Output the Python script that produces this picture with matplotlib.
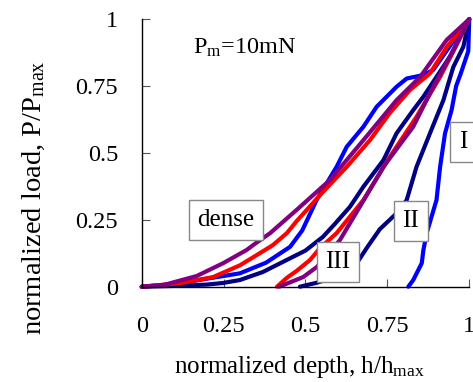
import matplotlib
matplotlib.use("Agg")
import matplotlib.pyplot as plt

plt.rcParams['font.family'] = ['Liberation Serif', 'DejaVu Serif']
plt.rcParams['mathtext.fontset'] = 'custom'
plt.rcParams['mathtext.rm'] = 'Liberation Serif'
plt.rcParams['mathtext.it'] = 'Liberation Serif:italic'

# ---- data (normalized depth h/hmax, normalized load P/Pmax) ----
blue_load_h = [0, 0.10, 0.20, 0.30, 0.38, 0.453, 0.49, 0.534, 0.595, 0.626, 0.677, 0.717, 0.778, 0.809, 0.86, 0.89, 0.93, 0.97, 1.0]
blue_load_P = [0, 0.01, 0.03, 0.05, 0.09, 0.149, 0.21, 0.324, 0.448, 0.523, 0.598, 0.672, 0.747, 0.778, 0.791, 0.81, 0.88, 0.95, 1.0]
blue_unl_h = [1.0, 0.997, 0.975, 0.96, 0.946, 0.926, 0.911, 0.90, 0.87, 0.86, 0.855, 0.829, 0.814]
blue_unl_P = [1.0, 0.88, 0.80, 0.75, 0.66, 0.573, 0.448, 0.324, 0.20, 0.137, 0.088, 0.025, 0.0]

navy_load_h = [0, 0.10, 0.20, 0.249, 0.30, 0.37, 0.443, 0.50, 0.553, 0.59, 0.636, 0.677, 0.738, 0.778, 0.829, 0.86, 0.941, 1.0]
navy_load_P = [0, 0.003, 0.008, 0.014, 0.025, 0.055, 0.10, 0.135, 0.186, 0.235, 0.299, 0.374, 0.473, 0.573, 0.66, 0.71, 0.86, 1.0]
navy_unl_h = [1.0, 0.982, 0.951, 0.921, 0.88, 0.839, 0.809, 0.778, 0.727, 0.69, 0.656, 0.595, 0.535, 0.483]
navy_unl_P = [1.0, 0.897, 0.82, 0.697, 0.573, 0.448, 0.324, 0.274, 0.215, 0.15, 0.087, 0.037, 0.015, 0.0]

red_load_h = [0, 0.117, 0.218, 0.30, 0.351, 0.40, 0.443, 0.473, 0.554, 0.626, 0.697, 0.758, 0.819, 0.88, 0.931, 1.0]
red_load_P = [0, 0.013, 0.036, 0.080, 0.118, 0.155, 0.20, 0.245, 0.355, 0.448, 0.548, 0.65, 0.735, 0.797, 0.895, 1.0]
red_unl_h = [1.0, 0.96, 0.911, 0.839, 0.758, 0.677, 0.595, 0.545, 0.514, 0.474, 0.443, 0.413]
red_unl_P = [1.0, 0.90, 0.784, 0.635, 0.486, 0.324, 0.20, 0.145, 0.10, 0.06, 0.033, 0.0]

purple_load_h = [0, 0.066, 0.168, 0.249, 0.32, 0.351, 0.392, 0.473, 0.575, 0.677, 0.778, 0.85, 0.931, 1.0]
purple_load_P = [0, 0.006, 0.040, 0.088, 0.137, 0.165, 0.20, 0.287, 0.399, 0.548, 0.697, 0.784, 0.922, 1.0]
purple_unl_h = [1.0, 0.95, 0.89, 0.829, 0.738, 0.666, 0.605, 0.565, 0.535, 0.493, 0.42]
purple_unl_P = [1.0, 0.88, 0.747, 0.598, 0.448, 0.299, 0.174, 0.118, 0.074, 0.036, 0.0]

ticks = [0, 0.25, 0.5, 0.75, 1]
tick_labels = ['0', '0.25', '0.5', '0.75', '1']

fig = plt.figure(figsize=(4.73, 3.82), dpi=100)
ax = fig.add_axes([0.2996, 0.2495, 0.6925, 0.7005])

series = [
    (blue_load_h + blue_unl_h, blue_load_P + blue_unl_P, '#0000FF'),
    (navy_load_h + navy_unl_h, navy_load_P + navy_unl_P, '#000080'),
    (red_load_h + red_unl_h, red_load_P + red_unl_P, '#FF0000'),
    (purple_load_h + purple_unl_h, purple_load_P + purple_unl_P, '#800080'),
]
for h, P, c in series:
    ax.plot(h, P, color=c, lw=3.0, solid_joinstyle='round', solid_capstyle='round', clip_on=False)

ax.set_xlim(0, 1)
ax.set_ylim(0, 1)
ax.set_xticks(ticks)
ax.set_xticklabels(tick_labels)
ax.set_yticks(ticks)
ax.set_yticklabels(tick_labels)
ax.tick_params(direction='in', length=5.5, width=0.8, labelsize=17.5, color='#555555')
ax.tick_params(axis='x', pad=21)
ax.tick_params(axis='y', pad=17)
for s in ['top', 'right']:
    ax.spines[s].set_visible(False)
for s in ['left', 'bottom']:
    ax.spines[s].set_linewidth(1.0)

box = dict(boxstyle='square,pad=0.35', fc='white', ec='#888888', lw=1.0)
ax.text(0.257, 0.249, 'dense', ha='center', va='center', fontsize=18, bbox=box, zorder=5)
ax.text(0.822, 0.245, 'II', ha='center', va='center', fontsize=18, bbox=box, zorder=5)
ax.text(0.599, 0.092, 'III', ha='center', va='center', fontsize=18, bbox=box, zorder=5)
ax.text(0.981, 0.54, 'I', ha='center', va='center', fontsize=18, bbox=box, zorder=5)
ax.text(0.157, 0.869, r'P$_{\mathregular{m}}$=10mN', ha='left', va='baseline', fontsize=17.5)

fig.text(0.072, 0.483, r'normalized load, P/P$_{\mathregular{max}}$', rotation=90,
         ha='center', va='center', fontsize=20.5)
fig.text(0.633, 0.024, r'normalized depth, h/h$_{\mathregular{max}}$', ha='center',
         va='baseline', fontsize=18)

fig.savefig('out.png', dpi=100)
